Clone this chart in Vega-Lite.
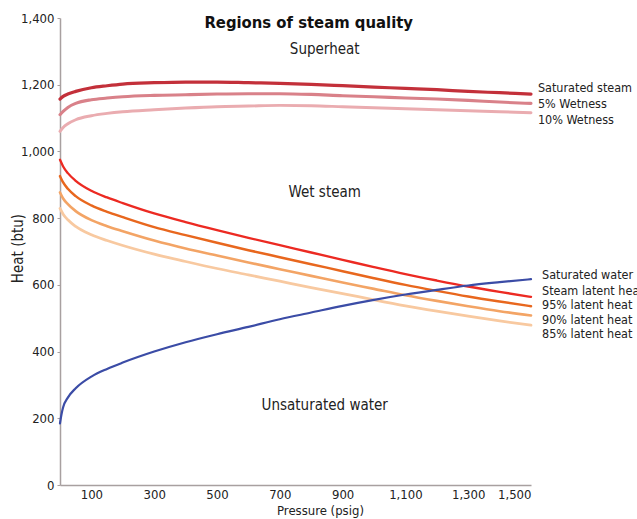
{
  "$schema": "https://vega.github.io/schema/vega-lite/v6.json",
  "autosize": {"type": "none"},
  "width": 471,
  "height": 467,
  "padding": {"left": 60, "top": 18, "right": 106, "bottom": 34},
  "background": "white",
  "config": {
    "view": {"stroke": null},
    "font": "DejaVu Sans Condensed",
    "axis": {"labelFont": "DejaVu Sans Condensed", "titleFont": "DejaVu Sans Condensed", "labelColor": "#222", "titleColor": "#222", "titleFontWeight": "normal", "grid": false, "domainColor": "#a8a0a0", "tickColor": "#a8a0a0"}
  },
  "datasets": {
    "curves": [
      {"series": "Saturated steam", "p": 0, "h": 1157}, {"series": "Saturated steam", "p": 10, "h": 1165}, {"series": "Saturated steam", "p": 25, "h": 1172}, {"series": "Saturated steam", "p": 50, "h": 1180}, {"series": "Saturated steam", "p": 100, "h": 1191}, {"series": "Saturated steam", "p": 150, "h": 1197}, {"series": "Saturated steam", "p": 200, "h": 1202}, {"series": "Saturated steam", "p": 300, "h": 1206}, {"series": "Saturated steam", "p": 400, "h": 1208}, {"series": "Saturated steam", "p": 500, "h": 1208}, {"series": "Saturated steam", "p": 600, "h": 1206}, {"series": "Saturated steam", "p": 700, "h": 1204}, {"series": "Saturated steam", "p": 800, "h": 1201}, {"series": "Saturated steam", "p": 900, "h": 1197}, {"series": "Saturated steam", "p": 1000, "h": 1193}, {"series": "Saturated steam", "p": 1100, "h": 1189}, {"series": "Saturated steam", "p": 1200, "h": 1185}, {"series": "Saturated steam", "p": 1300, "h": 1180}, {"series": "Saturated steam", "p": 1400, "h": 1176}, {"series": "Saturated steam", "p": 1500, "h": 1172},
      {"series": "5% Wetness", "p": 0, "h": 1110}, {"series": "5% Wetness", "p": 10, "h": 1120}, {"series": "5% Wetness", "p": 25, "h": 1132}, {"series": "5% Wetness", "p": 50, "h": 1144}, {"series": "5% Wetness", "p": 100, "h": 1155}, {"series": "5% Wetness", "p": 150, "h": 1160}, {"series": "5% Wetness", "p": 200, "h": 1164}, {"series": "5% Wetness", "p": 300, "h": 1168}, {"series": "5% Wetness", "p": 400, "h": 1170}, {"series": "5% Wetness", "p": 500, "h": 1172}, {"series": "5% Wetness", "p": 600, "h": 1173}, {"series": "5% Wetness", "p": 700, "h": 1173}, {"series": "5% Wetness", "p": 800, "h": 1171}, {"series": "5% Wetness", "p": 900, "h": 1167}, {"series": "5% Wetness", "p": 1000, "h": 1164}, {"series": "5% Wetness", "p": 1100, "h": 1160}, {"series": "5% Wetness", "p": 1200, "h": 1157}, {"series": "5% Wetness", "p": 1300, "h": 1153}, {"series": "5% Wetness", "p": 1400, "h": 1148}, {"series": "5% Wetness", "p": 1500, "h": 1144},
      {"series": "10% Wetness", "p": 0, "h": 1060}, {"series": "10% Wetness", "p": 10, "h": 1072}, {"series": "10% Wetness", "p": 25, "h": 1083}, {"series": "10% Wetness", "p": 50, "h": 1095}, {"series": "10% Wetness", "p": 100, "h": 1107}, {"series": "10% Wetness", "p": 150, "h": 1114}, {"series": "10% Wetness", "p": 200, "h": 1119}, {"series": "10% Wetness", "p": 300, "h": 1125}, {"series": "10% Wetness", "p": 400, "h": 1130}, {"series": "10% Wetness", "p": 500, "h": 1134}, {"series": "10% Wetness", "p": 600, "h": 1136}, {"series": "10% Wetness", "p": 700, "h": 1138}, {"series": "10% Wetness", "p": 800, "h": 1137}, {"series": "10% Wetness", "p": 900, "h": 1134}, {"series": "10% Wetness", "p": 1000, "h": 1131}, {"series": "10% Wetness", "p": 1100, "h": 1128}, {"series": "10% Wetness", "p": 1200, "h": 1125}, {"series": "10% Wetness", "p": 1300, "h": 1122}, {"series": "10% Wetness", "p": 1400, "h": 1119}, {"series": "10% Wetness", "p": 1500, "h": 1116},
      {"series": "85% latent heat", "p": 0, "h": 829}, {"series": "85% latent heat", "p": 10, "h": 812}, {"series": "85% latent heat", "p": 25, "h": 795}, {"series": "85% latent heat", "p": 50, "h": 775}, {"series": "85% latent heat", "p": 100, "h": 750}, {"series": "85% latent heat", "p": 150, "h": 733}, {"series": "85% latent heat", "p": 200, "h": 718}, {"series": "85% latent heat", "p": 300, "h": 692}, {"series": "85% latent heat", "p": 400, "h": 670}, {"series": "85% latent heat", "p": 500, "h": 649}, {"series": "85% latent heat", "p": 600, "h": 630}, {"series": "85% latent heat", "p": 700, "h": 611}, {"series": "85% latent heat", "p": 800, "h": 592}, {"series": "85% latent heat", "p": 900, "h": 574}, {"series": "85% latent heat", "p": 1000, "h": 555}, {"series": "85% latent heat", "p": 1100, "h": 537}, {"series": "85% latent heat", "p": 1200, "h": 521}, {"series": "85% latent heat", "p": 1300, "h": 506}, {"series": "85% latent heat", "p": 1400, "h": 492}, {"series": "85% latent heat", "p": 1500, "h": 479},
      {"series": "90% latent heat", "p": 0, "h": 877}, {"series": "90% latent heat", "p": 10, "h": 859}, {"series": "90% latent heat", "p": 25, "h": 842}, {"series": "90% latent heat", "p": 50, "h": 821}, {"series": "90% latent heat", "p": 100, "h": 794}, {"series": "90% latent heat", "p": 150, "h": 776}, {"series": "90% latent heat", "p": 200, "h": 761}, {"series": "90% latent heat", "p": 300, "h": 733}, {"series": "90% latent heat", "p": 400, "h": 709}, {"series": "90% latent heat", "p": 500, "h": 688}, {"series": "90% latent heat", "p": 600, "h": 667}, {"series": "90% latent heat", "p": 700, "h": 647}, {"series": "90% latent heat", "p": 800, "h": 627}, {"series": "90% latent heat", "p": 900, "h": 607}, {"series": "90% latent heat", "p": 1000, "h": 588}, {"series": "90% latent heat", "p": 1100, "h": 569}, {"series": "90% latent heat", "p": 1200, "h": 552}, {"series": "90% latent heat", "p": 1300, "h": 536}, {"series": "90% latent heat", "p": 1400, "h": 521}, {"series": "90% latent heat", "p": 1500, "h": 508},
      {"series": "95% latent heat", "p": 0, "h": 926}, {"series": "95% latent heat", "p": 10, "h": 907}, {"series": "95% latent heat", "p": 25, "h": 888}, {"series": "95% latent heat", "p": 50, "h": 866}, {"series": "95% latent heat", "p": 100, "h": 838}, {"series": "95% latent heat", "p": 150, "h": 819}, {"series": "95% latent heat", "p": 200, "h": 803}, {"series": "95% latent heat", "p": 300, "h": 773}, {"series": "95% latent heat", "p": 400, "h": 749}, {"series": "95% latent heat", "p": 500, "h": 726}, {"series": "95% latent heat", "p": 600, "h": 704}, {"series": "95% latent heat", "p": 700, "h": 683}, {"series": "95% latent heat", "p": 800, "h": 662}, {"series": "95% latent heat", "p": 900, "h": 641}, {"series": "95% latent heat", "p": 1000, "h": 620}, {"series": "95% latent heat", "p": 1100, "h": 600}, {"series": "95% latent heat", "p": 1200, "h": 582}, {"series": "95% latent heat", "p": 1300, "h": 565}, {"series": "95% latent heat", "p": 1400, "h": 550}, {"series": "95% latent heat", "p": 1500, "h": 536},
      {"series": "Steam latent heat", "p": 0, "h": 975}, {"series": "Steam latent heat", "p": 10, "h": 955}, {"series": "Steam latent heat", "p": 25, "h": 935}, {"series": "Steam latent heat", "p": 50, "h": 912}, {"series": "Steam latent heat", "p": 100, "h": 882}, {"series": "Steam latent heat", "p": 150, "h": 862}, {"series": "Steam latent heat", "p": 200, "h": 845}, {"series": "Steam latent heat", "p": 300, "h": 814}, {"series": "Steam latent heat", "p": 400, "h": 788}, {"series": "Steam latent heat", "p": 500, "h": 764}, {"series": "Steam latent heat", "p": 600, "h": 741}, {"series": "Steam latent heat", "p": 700, "h": 719}, {"series": "Steam latent heat", "p": 800, "h": 697}, {"series": "Steam latent heat", "p": 900, "h": 675}, {"series": "Steam latent heat", "p": 1000, "h": 653}, {"series": "Steam latent heat", "p": 1100, "h": 632}, {"series": "Steam latent heat", "p": 1200, "h": 613}, {"series": "Steam latent heat", "p": 1300, "h": 595}, {"series": "Steam latent heat", "p": 1400, "h": 579}, {"series": "Steam latent heat", "p": 1500, "h": 564},
      {"series": "Saturated water", "p": 0, "h": 185}, {"series": "Saturated water", "p": 5, "h": 213}, {"series": "Saturated water", "p": 10, "h": 233}, {"series": "Saturated water", "p": 25, "h": 262}, {"series": "Saturated water", "p": 50, "h": 290}, {"series": "Saturated water", "p": 100, "h": 325}, {"series": "Saturated water", "p": 150, "h": 348}, {"series": "Saturated water", "p": 200, "h": 367}, {"series": "Saturated water", "p": 300, "h": 400}, {"series": "Saturated water", "p": 400, "h": 428}, {"series": "Saturated water", "p": 500, "h": 452}, {"series": "Saturated water", "p": 600, "h": 474}, {"series": "Saturated water", "p": 700, "h": 497}, {"series": "Saturated water", "p": 800, "h": 517}, {"series": "Saturated water", "p": 900, "h": 537}, {"series": "Saturated water", "p": 1000, "h": 555}, {"series": "Saturated water", "p": 1100, "h": 571}, {"series": "Saturated water", "p": 1200, "h": 585}, {"series": "Saturated water", "p": 1300, "h": 598}, {"series": "Saturated water", "p": 1400, "h": 608}, {"series": "Saturated water", "p": 1500, "h": 617}
    ],
    "endLabels": [
      {"label": "Saturated steam", "p": 1522, "h": 1190},
      {"label": "5% Wetness", "p": 1522, "h": 1142},
      {"label": "10% Wetness", "p": 1522, "h": 1094},
      {"label": "Saturated water", "p": 1535, "h": 629},
      {"label": "Steam latent heat", "p": 1535, "h": 582},
      {"label": "95% latent heat", "p": 1535, "h": 540},
      {"label": "90% latent heat", "p": 1535, "h": 495},
      {"label": "85% latent heat", "p": 1535, "h": 452}
    ],
    "regions": [
      {"text": "Superheat", "p": 843, "h": 1307},
      {"text": "Wet steam", "p": 843, "h": 878},
      {"text": "Unsaturated water", "p": 843, "h": 240}
    ],
    "heading": [
      {"text": "Regions of steam quality", "p": 792, "h": 1385}
    ]
  },
  "layer": [
    {
      "data": {"name": "curves"},
      "mark": {"type": "line", "interpolate": "monotone", "strokeCap": "round"},
      "encoding": {
        "x": {"field": "p", "type": "quantitative", "scale": {"domain": [0, 1500], "nice": false}, "axis": {"values": [100, 300, 500, 700, 900, 1100, 1300, 1500], "format": ",d", "title": "Pressure (psig)", "labelFontSize": 13, "titleFontSize": 13, "ticks": false, "labelPadding": 3, "titleX": 260, "titlePadding": 3, "domainWidth": 1.5}},
        "y": {"field": "h", "type": "quantitative", "scale": {"domain": [0, 1400], "nice": false}, "axis": {"values": [0, 200, 400, 600, 800, 1000, 1200, 1400], "format": ",d", "title": "Heat (btu)", "labelFontSize": 13, "titleFontSize": 15, "tickSize": 3, "labelPadding": 3, "titleX": -43, "titleY": 230, "titleAlign": "center", "titleBaseline": "middle", "titleAngle": -90, "domainWidth": 1.5}},
        "color": {"field": "series", "type": "nominal", "legend": null, "scale": {"domain": ["Saturated steam", "5% Wetness", "10% Wetness", "85% latent heat", "90% latent heat", "95% latent heat", "Steam latent heat", "Saturated water"], "range": ["#c3303a", "#d98189", "#eaacb0", "#f8c9a0", "#f3a465", "#e8671e", "#ec2a22", "#3b4ca6"]}},
        "strokeWidth": {"field": "series", "type": "nominal", "legend": null, "scale": {"domain": ["Saturated steam", "5% Wetness", "10% Wetness", "85% latent heat", "90% latent heat", "95% latent heat", "Steam latent heat", "Saturated water"], "range": [3.2, 2.2, 2.2, 2.4, 2.4, 2.6, 3.2, 3.2]}},
        "order": {"field": "p", "type": "quantitative"}
      }
    },
    {
      "data": {"name": "endLabels"},
      "mark": {"type": "text", "align": "left", "baseline": "middle", "fontSize": 12.5, "color": "#222", "font": "DejaVu Sans Condensed"},
      "encoding": {
        "x": {"field": "p", "type": "quantitative"},
        "y": {"field": "h", "type": "quantitative"},
        "text": {"field": "label"}
      }
    },
    {
      "data": {"name": "regions"},
      "mark": {"type": "text", "align": "center", "baseline": "middle", "fontSize": 15, "color": "#222", "font": "DejaVu Sans Condensed"},
      "encoding": {
        "x": {"field": "p", "type": "quantitative"},
        "y": {"field": "h", "type": "quantitative"},
        "text": {"field": "text"}
      }
    },
    {
      "data": {"name": "heading"},
      "mark": {"type": "text", "align": "center", "baseline": "middle", "fontSize": 16.5, "fontWeight": "bold", "color": "#111", "font": "DejaVu Sans Condensed"},
      "encoding": {
        "x": {"field": "p", "type": "quantitative"},
        "y": {"field": "h", "type": "quantitative"},
        "text": {"field": "text"}
      }
    }
  ]
}
